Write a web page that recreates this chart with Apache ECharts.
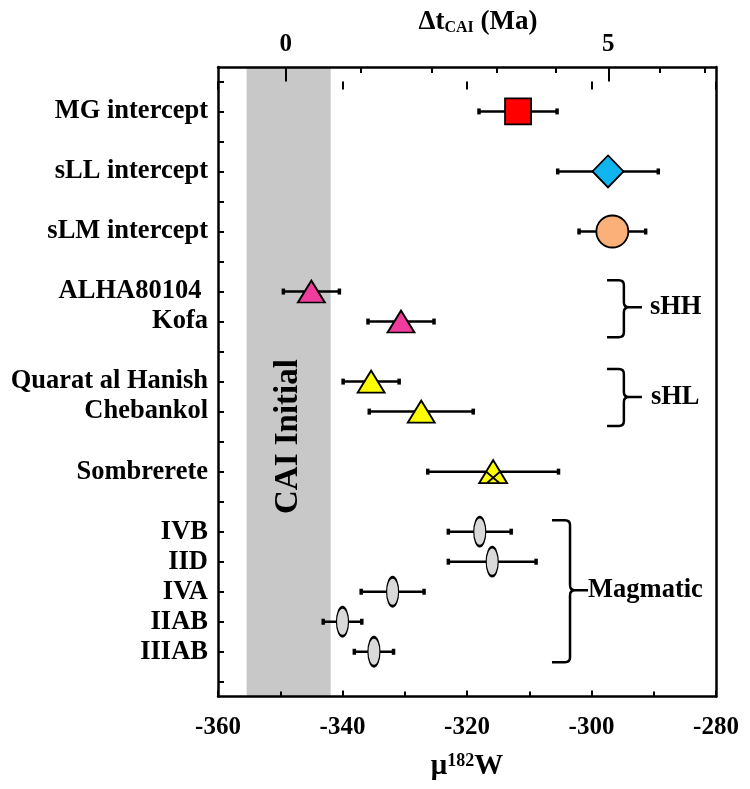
<!DOCTYPE html>
<html><head><meta charset="utf-8">
<script src="https://cdn.jsdelivr.net/npm/echarts@6/dist/echarts.min.js"></script>
<style>html,body{margin:0;padding:0;background:#fff}#c{width:750px;height:789px}</style>
</head><body><div id="c"></div>
<script>
// ---- data ----
const names = ['MG intercept','sLL intercept','sLM intercept','ALHA80104 ','Kofa','Quarat al Hanish','Chebankol','Sombrerete','IVB','IID','IVA','IIAB','IIIAB'];
const rows = [1,3,5,7,8,10,11,13,15,16,17,18,19];
const muValues = [-311.8,-297.35,-296.65,-345.0,-330.6,-335.4,-327.35,-315.8,-317.95,-315.95,-331.95,-340.0,-334.95];
const muErrors = [6.27,8.08,5.35,4.5,5.3,4.5,8.35,10.5,5.05,7.05,5.05,3.1,3.15];
const groups = ['MG','sLL','sLM','sHH','sHH','sHL','sHL','Som','Mag','Mag','Mag','Mag','Mag'];
const rowTicks = [0,1,2,3,4,5,6,7,8,9,10,11,12,13,14,15,16,17,18,19,20];
const topTickMa = [0,1,2,3,4,5,6,7];
const topTickMu = [-349.1,-337.0,-325.7,-315.2,-305.8,-297.3,-289.0,-281.8];
const topLabelMa = [0,5];
const caiBand = [-355.4,-341.9];
const caiText = 'CAI Initial';
const braceLabels = ['sHH','sHL','Magmatic'];
const braceRows = [[6.62,7.52,8.52],[9.58,10.51,11.48],[14.62,16.95,19.35]];
const braceMu = [[-297.5,-294.8,-291.9],[-297.5,-294.8,-291.9],[-306.35,-303.45,-300.55]];

// ---- styles ----
const FONT = '"Liberation Serif","Times New Roman",serif';
const braceTextGap = [8, 9, 0];
const markerStyle = {
  MG:{symbol:'rect', size:[26,26], color:'#ff0000'},
  sLL:{symbol:'diamond', size:[31,32], color:'#10b4ef'},
  sLM:{symbol:'circle', size:[32,32], color:'#fbb07a'},
  sHH:{symbol:'triangle', size:[27,22], color:'#f03c9c'},
  sHL:{symbol:'triangle', size:[27,22], color:'#ffff00'},
  Som:{symbol:'path://M10,0 L20,18 L0,18 Z M5,9 L14.5,18 M15,9 L5.5,18', size:[28,23], color:'#ffff00'},
  Mag:{symbol:'circle', size:[12,29], color:'#d9d9d9'}
};
const axLine = {show:true, onZero:false, lineStyle:{color:'#000', width:2.5}};
const tickLS = {color:'#000', width:2};
const majorMu = topLabelMa.map(m => topTickMu[topTickMa.indexOf(m)]);
const minorMu = topTickMu.filter(v => majorMu.indexOf(v) < 0);
function nearestIdx(arr, v){let b=0;for(let i=1;i<arr.length;i++){if(Math.abs(arr[i]-v)<Math.abs(arr[b]-v))b=i;}return b;}

const chart = echarts.init(document.getElementById('c'), null, {renderer:'canvas'});
const option = {
  backgroundColor:'#fff',
  animation:false,
  grid:{left:218, right:34, top:67, bottom:92.5, outerBoundsMode:'none'},
  xAxis:[
    {type:'value', position:'bottom', min:-360, max:-280, interval:20, z:10,
     axisLine:axLine, axisTick:{show:true, inside:true, length:6, lineStyle:tickLS},
     minorTick:{show:true, splitNumber:2, length:5, lineStyle:tickLS},
     splitLine:{show:false}, minorSplitLine:{show:false},
     axisLabel:{fontFamily:FONT, fontWeight:'bold', fontSize:25, color:'#000', margin:19},
     name:'{m|μ}{s|182}{m|W}', nameLocation:'middle', nameGap:56, nameMoveOverlap:false,
     nameTextStyle:{rich:{m:{fontFamily:FONT, fontWeight:'bold', fontSize:29, color:'#000'},
                          s:{fontFamily:FONT, fontWeight:'bold', fontSize:18, color:'#000', verticalAlign:'top'}}}},
    {type:'value', position:'bottom', min:-360, max:-280, interval:20, z:10,
     axisLine:{show:false}, axisTick:{show:true, inside:false, length:8, lineStyle:tickLS},
     axisLabel:{show:false}, splitLine:{show:false}},
    {type:'value', position:'top', min:-360, max:-280, z:10,
     axisLine:axLine, axisTick:{show:true, inside:true, length:9, customValues:majorMu, lineStyle:tickLS},
     axisLabel:{customValues:majorMu, formatter:v => String(topTickMa[nearestIdx(topTickMu, v)]),
                fontFamily:FONT, fontWeight:'bold', fontSize:25, color:'#000', margin:10},
     splitLine:{show:false},
     name:'{a|Δt}{b|CAI}{a| (Ma)}', nameLocation:'middle', nameGap:31, nameMoveOverlap:false,
     nameTextStyle:{padding:[0,0,0,22], rich:{a:{fontFamily:FONT, fontWeight:'bold', fontSize:27, color:'#000'},
                          b:{fontFamily:FONT, fontWeight:'bold', fontSize:16, color:'#000', verticalAlign:'bottom'}}}},
    {type:'value', position:'top', min:-360, max:-280, z:10,
     axisLine:{show:false}, axisTick:{show:true, inside:false, length:12, customValues:majorMu, lineStyle:tickLS},
     axisLabel:{show:false}, splitLine:{show:false}},
    {type:'value', position:'top', min:-360, max:-280, z:10,
     axisLine:{show:false}, axisTick:{show:true, inside:true, length:6, customValues:minorMu, lineStyle:tickLS},
     axisLabel:{show:false}, splitLine:{show:false}}
  ],
  yAxis:[
    {type:'value', position:'left', inverse:true, min:-0.48, max:20.49, z:10,
     axisLine:axLine, axisTick:{show:true, inside:true, length:6, customValues:rowTicks, lineStyle:tickLS},
     axisLabel:{customValues:rows, formatter:v => names[nearestIdx(rows, v)],
                fontFamily:FONT, fontWeight:'bold', fontSize:26.5, color:'#000', margin:10},
     splitLine:{show:false}},
    {type:'value', position:'right', inverse:true, min:-0.48, max:20.49, z:10,
     axisLine:axLine, axisTick:{show:false}, axisLabel:{show:false}, splitLine:{show:false}}
  ],
  series:[
    {type:'custom', z:1, silent:true, xAxisIndex:0, yAxisIndex:0,
     data:[[caiBand[0], caiBand[1], 0]], encode:{x:[0,1], y:2},
     renderItem:(params, api) => {
       const cs = params.coordSys;
       const x0 = api.coord([api.value(0), 0])[0];
       const x1 = api.coord([api.value(1), 0])[0];
       return {type:'rect', shape:{x:x0, y:cs.y, width:x1-x0, height:cs.height}, style:{fill:'#c8c8c8'}};
     }},
    {type:'custom', z:2, silent:true, xAxisIndex:0, yAxisIndex:0,
     data:[[-348.75, 11.83]], encode:{x:0, y:1},
     renderItem:(params, api) => {
       const p = api.coord([api.value(0), api.value(1)]);
       return {type:'text', x:p[0], y:p[1], rotation:Math.PI/2,
               style:{text:caiText, fontFamily:FONT, fontWeight:'bold', fontSize:33, fill:'#000', align:'center', verticalAlign:'middle'}};
     }},
    {type:'custom', z:3, silent:true, xAxisIndex:0, yAxisIndex:0,
     data:names.map((n,i) => [muValues[i]-muErrors[i], muValues[i]+muErrors[i], rows[i]]),
     encode:{x:[0,1], y:2},
     renderItem:(params, api) => {
       const a = api.coord([api.value(0), api.value(2)]);
       const b = api.coord([api.value(1), api.value(2)]);
       return {type:'group', children:[
         {type:'line', shape:{x1:a[0], y1:a[1], x2:b[0], y2:b[1]}, style:{stroke:'#000', lineWidth:2.5}},
         {type:'line', shape:{x1:a[0], y1:a[1]-3, x2:a[0], y2:a[1]+3}, style:{stroke:'#000', lineWidth:3.5}},
         {type:'line', shape:{x1:b[0], y1:b[1]-3, x2:b[0], y2:b[1]+3}, style:{stroke:'#000', lineWidth:3.5}}
       ]};
     }},
    {type:'scatter', z:4, xAxisIndex:0, yAxisIndex:0,
     data:names.map((n,i) => {
       const s = markerStyle[groups[i]];
       return {value:[muValues[i], rows[i]], symbol:s.symbol, symbolSize:s.size,
               itemStyle:{color:s.color, borderColor:'#000', borderWidth:1.8, opacity:1}};
     })},
    {type:'custom', z:3, silent:true, xAxisIndex:0, yAxisIndex:0,
     data:braceLabels.map((l,i) => [braceMu[i][0], braceMu[i][1], braceMu[i][2], braceRows[i][0], braceRows[i][1], braceRows[i][2], i]),
     encode:{x:[0,1,2], y:[3,4,5]},
     renderItem:(params, api) => {
       const xL = api.coord([api.value(0), api.value(3)])[0];
       const xV = api.coord([api.value(1), api.value(3)])[0];
       const xT = api.coord([api.value(2), api.value(3)])[0];
       const yT = api.coord([api.value(0), api.value(3)])[1];
       const yM = api.coord([api.value(0), api.value(4)])[1];
       const yB = api.coord([api.value(0), api.value(5)])[1];
       const r = 5;
       const d = `M${xL},${yT} L${xV-r},${yT} Q${xV},${yT} ${xV},${yT+r} L${xV},${yM-r} Q${xV},${yM} ${xV+r},${yM} L${xT},${yM} M${xV+r},${yM} Q${xV},${yM} ${xV},${yM+r} L${xV},${yB-r} Q${xV},${yB} ${xV-r},${yB} L${xL},${yB}`;
       const idx = api.value(6);
       return {type:'group', children:[
         {type:'path', shape:{pathData:d}, style:{stroke:'#000', lineWidth:2.5, fill:'none'}},
         {type:'text', x:xT+braceTextGap[idx], y:yM, style:{text:braceLabels[idx], fontFamily:FONT, fontWeight:'bold', fontSize:26.5, fill:'#000', align:'left', verticalAlign:'middle'}}
       ]};
     }}
  ]
};
chart.setOption(option);
</script>
</body></html>
